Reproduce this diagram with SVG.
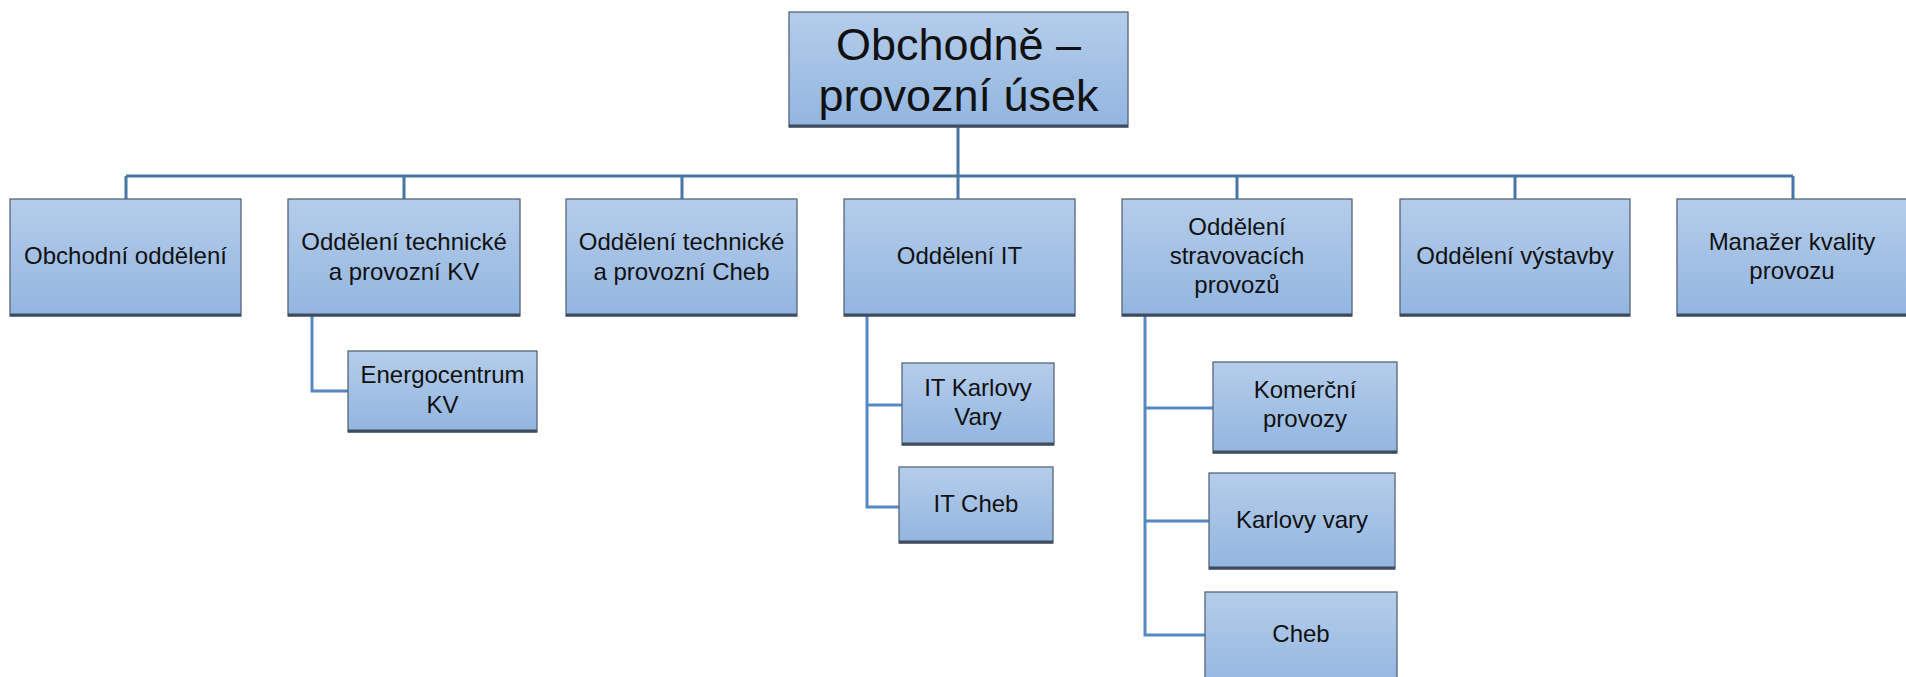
<svg xmlns="http://www.w3.org/2000/svg" width="1906" height="677" viewBox="0 0 1906 677">
<defs>
<linearGradient id="g" x1="0" y1="0" x2="0" y2="1">
<stop offset="0" stop-color="#b5cdea"/>
<stop offset="1" stop-color="#92b5e0"/>
</linearGradient>
<style>
.box{fill:url(#g);stroke:#56657a;stroke-width:1.3}
.sh{stroke:#3e4c5e;stroke-width:3;fill:none}
.t{font-family:"Liberation Sans",Arial,sans-serif;font-size:24px;fill:#111;text-anchor:middle}
.tt{font-family:"Liberation Sans",Arial,sans-serif;font-size:45px;fill:#111;text-anchor:middle}
.c1{stroke:#4676a4;stroke-width:3;fill:none}
.c2{stroke:#5588c2;stroke-width:3;fill:none}
</style>
</defs>
<rect width="1906" height="677" fill="#fff"/>
<g id="connectors">
<path class="c1" d="M958 127V176M126 176H1793M126 176V199M404 176V199M682 176V199M958 176V199M1237 176V199M1515 176V199M1793 176V199"/>
<path class="c2" d="M312 316V391H348"/>
<path class="c2" d="M867 316V507H899M867 405H902"/>
<path class="c2" d="M1145 316V635H1205M1145 408H1213M1145 521H1209"/>
</g>
<g id="n-top"><rect class="box" x="789" y="12" width="339" height="115"/><path class="sh" d="M789 126H1128"/><text class="tt" x="958.5" y="60">Obchodně –</text><text class="tt" x="958.5" y="111">provozní úsek</text></g>
<g id="n1"><rect class="box" x="10" y="199" width="231" height="117"/><path class="sh" d="M10 315H241"/><text class="t" x="125.5" y="264">Obchodní oddělení</text></g>
<g id="n2"><rect class="box" x="288" y="199" width="232" height="117"/><path class="sh" d="M288 315H520"/><text class="t" x="404" y="250">Oddělení technické</text><text class="t" x="404" y="280">a provozní KV</text></g>
<g id="n3"><rect class="box" x="566" y="199" width="231" height="117"/><path class="sh" d="M566 315H797"/><text class="t" x="681.5" y="250">Oddělení technické</text><text class="t" x="681.5" y="280">a provozní Cheb</text></g>
<g id="n4"><rect class="box" x="844" y="199" width="231" height="117"/><path class="sh" d="M844 315H1075"/><text class="t" x="959.5" y="264">Oddělení IT</text></g>
<g id="n5"><rect class="box" x="1122" y="199" width="230" height="117"/><path class="sh" d="M1122 315H1352"/><text class="t" x="1237" y="235">Oddělení</text><text class="t" x="1237" y="264">stravovacích</text><text class="t" x="1237" y="293">provozů</text></g>
<g id="n6"><rect class="box" x="1400" y="199" width="230" height="117"/><path class="sh" d="M1400 315H1630"/><text class="t" x="1515" y="264">Oddělení výstavby</text></g>
<g id="n7"><rect class="box" x="1677" y="199" width="232" height="117"/><path class="sh" d="M1677 315H1909"/><text class="t" x="1792" y="250">Manažer kvality</text><text class="t" x="1792" y="279">provozu</text></g>
<g id="n8"><rect class="box" x="348" y="351" width="189" height="81"/><path class="sh" d="M348 431H537"/><text class="t" x="442.5" y="383">Energocentrum</text><text class="t" x="442.5" y="413">KV</text></g>
<g id="n9"><rect class="box" x="902" y="363" width="152" height="82"/><path class="sh" d="M902 444H1054"/><text class="t" x="978" y="396">IT Karlovy</text><text class="t" x="978" y="425">Vary</text></g>
<g id="n10"><rect class="box" x="899" y="467" width="154" height="76"/><path class="sh" d="M899 542H1053"/><text class="t" x="976" y="512">IT Cheb</text></g>
<g id="n11"><rect class="box" x="1213" y="362" width="184" height="91"/><path class="sh" d="M1213 452H1397"/><text class="t" x="1305" y="398">Komerční</text><text class="t" x="1305" y="427">provozy</text></g>
<g id="n12"><rect class="box" x="1209" y="473" width="186" height="96"/><path class="sh" d="M1209 568H1395"/><text class="t" x="1302" y="528">Karlovy vary</text></g>
<g id="n13"><rect class="box" x="1205" y="592" width="192" height="100"/><text class="t" x="1301" y="642">Cheb</text></g>
</svg>
